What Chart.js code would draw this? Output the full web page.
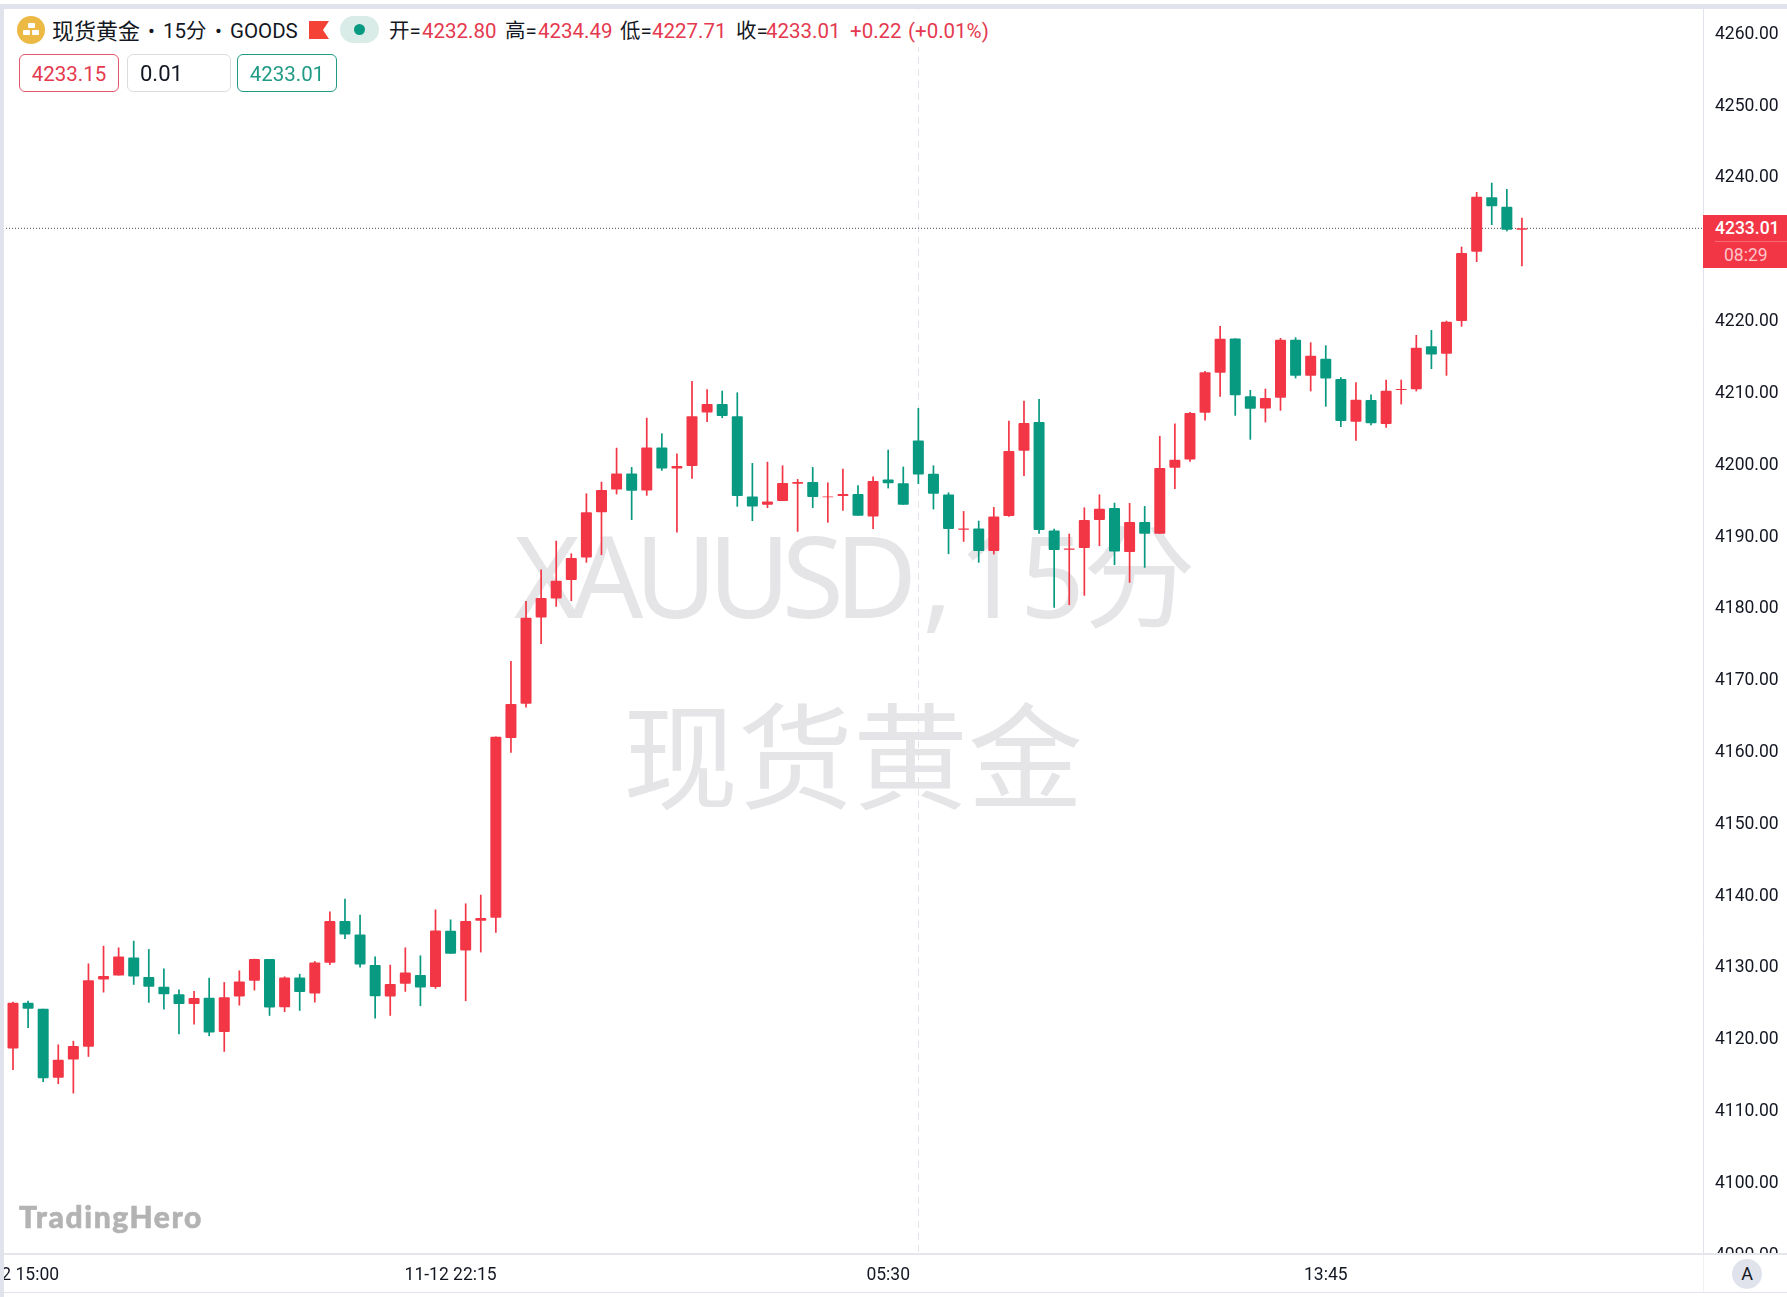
<!DOCTYPE html>
<html lang="zh-CN">
<head>
<meta charset="utf-8">
<title>现货黄金 15分</title>
<script src="https://cdn.jsdelivr.net/npm/chart.js@4/dist/chart.umd.min.js"></script>
<style>
  html, body { margin: 0; padding: 0; background: #fff; overflow: hidden; }
  body { width: 1787px; height: 1297px; position: relative; font-family: Roboto, "Noto Sans CJK SC", sans-serif; color: #131722; }
  .abs { position: absolute; white-space: nowrap; }
  #bandTop { left: 0; top: 4px; width: 1787px; height: 5px; background: #e0e3eb; z-index: 5; }
  #bandLeft { left: 0; top: 4px; width: 4px; height: 1293px; background: #e0e3eb; z-index: 5; }
  #bandBottom { left: 3px; top: 1292px; width: 1784px; height: 1px; background: #e0e3eb; }
  #stripLine { left: 3px; top: 1253px; width: 1784px; height: 2px; background: #e4e6ec; z-index: 4; }
  #wm1, #wm2 { color: #e5e5e7; z-index: 1; font-family: "Noto Sans", "Noto Sans CJK SC", sans-serif; }
  #wm1 { left: 514px; top: 489px; font-size: 113px; line-height: 170px; }
  #wm1 span { display: inline-block; }
  #wm2 { left: 853px; transform: translateX(-50%); top: 665px; font-size: 115px; line-height: 170px; font-family: "Noto Sans CJK SC", sans-serif; font-weight: 400; }
  canvas { position: absolute; left: 3px; top: 9px; z-index: 2; }
  #headBg { left: 4px; top: 10px; width: 1000px; height: 37px; background: #fff; z-index: 3; }
  .hd { z-index: 4; top: 17px; font-size: 20.5px; line-height: 28px; }
  .up { color: #e5394f; }
  .box { z-index: 4; top: 54px; height: 36px; line-height: 38px; border-radius: 6px; border: 1.5px solid; font-size: 20.5px; text-align: center; background: #fff; }
  #coin { left: 17px; top: 16px; width: 28px; height: 28px; border-radius: 50%; background: #ecb944; z-index: 4; }
  #coin i { position: absolute; background: #fff; border-radius: 1px; width: 7px; height: 5px; }
  #flag { left: 309px; top: 21px; width: 20px; height: 18px; background: #f44336; z-index: 4; clip-path: polygon(0 0, 100% 0, 70% 50%, 100% 100%, 0 100%); }
  #pill { left: 340px; top: 16px; width: 39px; height: 27px; border-radius: 14px; background: #d9ece8; z-index: 4; }
  #pill i { position: absolute; left: 14px; top: 8px; width: 11px; height: 11px; border-radius: 50%; background: #089981; }
  #tag { left: 1703px; top: 215px; width: 84px; height: 53px; background: #f23645; z-index: 4; color: #fff; font-size: 17.5px; }
  #tag div { position: absolute; left: 12px; line-height: 20px; }
  #tagLine { position: absolute; left: 0; top: 26px; width: 84px; height: 1px; background: #f66b76; }
  #logo { left: 19px; top: 1197px; font-family: Lato, sans-serif; font-weight: 900; font-size: 30px; letter-spacing: 1.6px; -webkit-text-stroke: 0.6px #b3b3b3; line-height: 38px; color: #b3b3b3; z-index: 4; }
  #corner { left: 1703px; top: 1255px; width: 84px; height: 37px; background: #fff; border-left: 1px solid #f0f1f4; z-index: 3; box-sizing: border-box; }
  #auto { left: 1732px; top: 1259px; width: 30px; height: 30px; border-radius: 50%; background: #e0e3eb; text-align: center; line-height: 30px; font-size: 18px; z-index: 4; }
</style>
</head>
<body>
<div class="abs" id="bandTop"></div>
<div class="abs" id="bandLeft"></div>
<div class="abs" id="bandBottom"></div>

<div class="abs" id="wm1"><span style="letter-spacing:-9px">XAUUSD</span><span style="margin-left:14px">,</span><span style="margin-left:5px;letter-spacing:-2px">15分</span></div>
<div class="abs" id="wm2">现货黄金</div>

<canvas id="chart" width="1784" height="1284"></canvas>

<div class="abs" id="headBg"></div>
<div class="abs" id="coin"><i style="left:10.5px;top:7px"></i><i style="left:6px;top:14px"></i><i style="left:15px;top:14px"></i></div>
<div class="abs hd" style="top:15px;left:52px;font-size:22px;font-family:'Noto Sans CJK SC'">现货黄金</div>
<div class="abs hd" style="left:148px">•</div>
<div class="abs hd" style="left:163px">15分</div>
<div class="abs hd" style="left:215px">•</div>
<div class="abs hd" style="left:230px">GOODS</div>
<div class="abs" id="flag"></div>
<div class="abs" id="pill"><i></i></div>
<div class="abs hd" style="left:389px">开=</div>
<div class="abs hd up" style="left:422px">4232.80</div>
<div class="abs hd" style="left:505px">高=</div>
<div class="abs hd up" style="left:538px">4234.49</div>
<div class="abs hd" style="left:620px">低=</div>
<div class="abs hd up" style="left:652px">4227.71</div>
<div class="abs hd" style="left:736px">收=</div>
<div class="abs hd up" style="left:766px">4233.01</div>
<div class="abs hd up" style="left:850px">+0.22</div>
<div class="abs hd up" style="left:908px">(+0.01%)</div>

<div class="abs box up" style="left:19px;width:98px;border-color:#e0566b">4233.15</div>
<div class="abs box" style="left:127px;width:90px;padding-left:12px;text-align:left;font-size:22px;border-color:#dcdcdc">0.01</div>
<div class="abs box" style="left:237px;width:98px;color:#1f9a85;border-color:#1f9a85">4233.01</div>

<div class="abs" id="tag">
  <div style="top:3px;font-weight:500">4233.01</div>
  <div id="tagLine"></div>
  <div style="top:30px;left:21px;color:#ffc4c9">08:29</div>
</div>

<div class="abs" id="logo">TradingHero</div>
<div class="abs" id="stripLine"></div>
<div class="abs" id="corner"></div>
<div class="abs" id="auto">A</div>

<script>
const categories = [
  "15:00","15:15","15:30","15:45","16:00","16:15","16:30","16:45","17:00","17:15","17:30","17:45",
  "18:00","18:15","18:30","18:45","19:00","19:15","19:30","19:45","20:00","20:15","20:30","20:45",
  "21:00","21:15","21:30","21:45","22:00","22:15","22:30","22:45","23:00","23:15","23:30","23:45",
  "00:00","00:15","00:30","00:45","01:00","01:15","01:30","01:45","02:00","02:15","02:30","02:45",
  "03:00","03:15","03:30","03:45","04:00","04:15","04:30","04:45","05:00","05:15","05:30","05:45",
  "07:00","07:15","07:30","07:45","08:00","08:15","08:30","08:45","09:00","09:15","09:30","09:45",
  "10:00","10:15","10:30","10:45","11:00","11:15","11:30","11:45","12:00","12:15","12:30","12:45",
  "13:00","13:15","13:30","13:45","14:00","14:15","14:30","14:45","15:00","15:15","15:30","15:45",
  "16:00","16:15","16:30","16:45","17:00",
];

const opens = [
  4118.80,4125.16,4124.32,4114.71,4117.26,4119.03,4128.41,4128.96,4131.47,4128.73,
  4127.38,4126.36,4124.97,4125.85,4121.07,4126.04,4128.22,4131.24,4124.55,4128.68,
  4126.46,4130.73,4136.53,4134.67,4130.40,4126.04,4127.80,4129.01,4127.34,4135.18,
  4132.44,4136.58,4137.00,4162.02,4166.80,4178.82,4181.47,4184.02,4187.18,4193.45,
  4196.65,4198.88,4196.51,4202.50,4199.57,4199.90,4207.37,4208.53,4206.82,4195.67,
  4194.51,4195.02,4197.44,4197.67,4195.54,4195.72,4196.00,4192.89,4198.04,4197.49,
  4203.47,4198.83,4195.95,4191.03,4191.22,4188.06,4192.94,4202.04,4206.03,4190.94,
  4188.25,4188.48,4192.38,4194.05,4187.92,4192.10,4190.48,4199.67,4200.83,4207.33,
  4212.90,4217.68,4209.61,4207.93,4209.42,4217.50,4212.48,4214.85,4212.02,4206.08,
  4209.10,4205.75,4210.49,4210.58,4216.57,4215.55,4220.10,4229.75,4237.32,4236.02,
  4232.80,
];
const closes = [
  4125.16,4124.32,4114.66,4117.22,4119.12,4128.31,4128.87,4131.61,4128.82,4127.38,
  4126.36,4124.97,4125.81,4121.02,4125.94,4128.13,4131.24,4124.51,4128.68,4126.64,
  4130.77,4136.53,4134.67,4130.49,4126.08,4127.76,4129.38,4127.29,4135.23,4131.98,
  4136.53,4136.95,4162.21,4166.76,4178.78,4181.52,4183.93,4187.09,4193.45,4196.56,
  4198.88,4196.46,4202.50,4199.57,4199.90,4206.82,4208.53,4206.86,4195.72,4194.28,
  4194.98,4197.53,4197.67,4195.58,4195.67,4196.00,4192.98,4197.81,4197.49,4194.51,
  4198.74,4196.05,4191.13,4191.22,4188.06,4192.89,4201.99,4205.89,4190.99,4188.20,
  4188.43,4192.38,4193.96,4188.01,4192.10,4190.48,4199.62,4200.78,4207.28,4212.95,
  4217.64,4209.75,4207.89,4209.37,4217.50,4212.48,4215.27,4212.11,4206.17,4209.14,
  4205.85,4210.40,4210.63,4216.38,4215.45,4220.00,4229.57,4237.41,4236.07,4232.82,
  4233.01,
];
const highs = [
  4125.29,4125.43,4124.32,4119.35,4119.86,4130.63,4133.09,4132.86,4133.79,4132.63,
  4129.94,4127.01,4126.78,4128.64,4128.03,4129.66,4131.28,4131.24,4128.82,4129.19,
  4130.96,4137.88,4139.64,4137.41,4131.61,4130.45,4132.86,4131.75,4138.15,4136.76,
  4138.99,4140.20,4162.25,4172.75,4181.10,4185.51,4189.50,4187.74,4196.09,4197.72,
  4202.45,4199.76,4206.63,4204.45,4201.66,4211.74,4210.58,4210.39,4210.16,4200.32,
  4200.50,4199.99,4198.09,4199.76,4197.62,4199.53,4197.21,4198.46,4202.17,4199.81,
  4207.98,4199.99,4196.23,4193.63,4192.29,4194.19,4206.21,4209.00,4209.23,4191.17,
  4190.48,4194.14,4195.95,4194.79,4194.75,4194.33,4204.08,4205.84,4207.42,4213.13,
  4219.40,4217.68,4210.49,4210.67,4217.73,4217.82,4217.13,4216.71,4212.25,4211.56,
  4209.88,4211.93,4211.93,4218.15,4218.84,4220.14,4230.45,4238.06,4239.36,4238.48,
  4234.49,
];
const lows = [
  4115.78,4121.63,4114.11,4113.83,4112.53,4117.63,4126.59,4128.96,4127.66,4125.16,
  4124.23,4120.79,4122.14,4120.51,4118.33,4124.78,4126.87,4123.34,4123.86,4124.04,
  4125.20,4130.40,4134.02,4130.08,4122.97,4123.34,4126.69,4124.69,4127.11,4131.98,
  4125.39,4132.17,4134.91,4159.98,4166.29,4175.11,4180.31,4181.10,4186.44,4187.50,
  4195.95,4192.38,4195.77,4199.25,4190.66,4198.14,4206.03,4206.58,4194.24,4192.24,
  4194.05,4195.02,4190.75,4194.05,4192.01,4193.68,4192.98,4191.13,4196.79,4194.51,
  4197.39,4193.86,4187.64,4189.36,4186.44,4187.60,4192.84,4198.51,4190.48,4180.17,
  4180.54,4181.84,4188.76,4186.11,4183.65,4185.74,4190.48,4196.70,4200.50,4206.26,
  4209.56,4206.91,4203.57,4205.98,4207.61,4212.11,4210.30,4208.17,4205.33,4203.43,
  4205.57,4205.24,4208.49,4210.30,4213.41,4212.48,4219.31,4228.31,4233.47,4232.59,
  4227.71,
];

const lastClose = 4233.01;
const priceTicks = [4260,4250,4240,4230,4220,4210,4200,4190,4180,4170,4160,4150,4140,4130,4120,4110,4100,4090];
const timeTickIdx = [0, 29, 58, 87];
const timeTickText = ["11-12 15:00", "11-12 22:15", "05:30", "13:45"];
const sessionIdx = 60;

const UP = "#f23645";
const DOWN = "#089981";
const xMin = -0.663;
const xMax = 112;
const colors = categories.map((_, i) => (closes[i] >= opens[i] ? UP : DOWN));

new Chart(document.getElementById("chart"), {
  data: {
    datasets: [
      {
        type: "bar",
        label: "body",
        data: categories.map((_, i) => ({ x: i, y: [opens[i], closes[i]] })),
        backgroundColor: colors,
        grouped: false,
        barPercentage: 1,
        categoryPercentage: 1,
        maxBarThickness: 11,
        borderWidth: 0,
        borderRadius: 1,
        borderSkipped: false,
        inflateAmount: 0,
        order: 1,
      },
      {
        type: "bar",
        label: "wick",
        data: categories.map((_, i) => ({ x: i, y: [lows[i], highs[i]] })),
        backgroundColor: colors,
        grouped: false,
        barPercentage: 1,
        categoryPercentage: 1,
        maxBarThickness: 1.7,
        borderWidth: 0,
        borderSkipped: false,
        inflateAmount: 0,
        order: 2,
      },
      {
        type: "line",
        label: "last",
        data: [{ x: xMin, y: lastClose }, { x: xMax, y: lastClose }],
        borderColor: "#4a4a4a",
        borderWidth: 1,
        borderDash: [1, 2],
        pointRadius: 0,
        order: 3,
      },
    ],
  },
  options: {
    responsive: false,
    animation: false,
    layout: { padding: 0 },
    plugins: { legend: { display: false }, tooltip: { enabled: false } },
    scales: {
      x: {
        type: "linear",
        min: xMin,
        max: xMax,
        offset: false,
        afterBuildTicks: (s) => { s.ticks = [...timeTickIdx, sessionIdx].sort((a, b) => a - b).map((value) => ({ value })); },
        afterFit: (s) => { s.height = 39; s.paddingLeft = 0; s.paddingRight = 0; },
        grid: {
          offset: false,
          drawTicks: false,
          color: (ctx) => (ctx.tick && ctx.tick.value === sessionIdx ? "#e0e3eb" : "transparent"),
        },
        border: { display: false, dash: [7, 5] },
        ticks: {
          autoSkip: false,
          maxRotation: 0,
          minRotation: 0,
          padding: 11,
          color: "#131722",
          font: { family: "Roboto", size: 17.5 },
          callback: (v) => { const k = timeTickIdx.indexOf(v); return k < 0 ? "" : timeTickText[k]; },
        },
      },
      y: {
        type: "linear",
        position: "right",
        min: 4090.17,
        max: 4263.55,
        afterBuildTicks: (s) => { s.ticks = priceTicks.map((value) => ({ value })); },
        afterFit: (s) => { s.width = 84; s.paddingTop = 0; s.paddingBottom = 0; },
        grid: { display: false, drawTicks: false },
        border: { display: true, color: "#e0e3eb", width: 1 },
        ticks: {
          autoSkip: false,
          padding: 12,
          color: "#131722",
          font: { family: "Roboto", size: 17.5 },
          callback: (v) => v.toFixed(2),
        },
      },
    },
  },
});
</script>
</body>
</html>
